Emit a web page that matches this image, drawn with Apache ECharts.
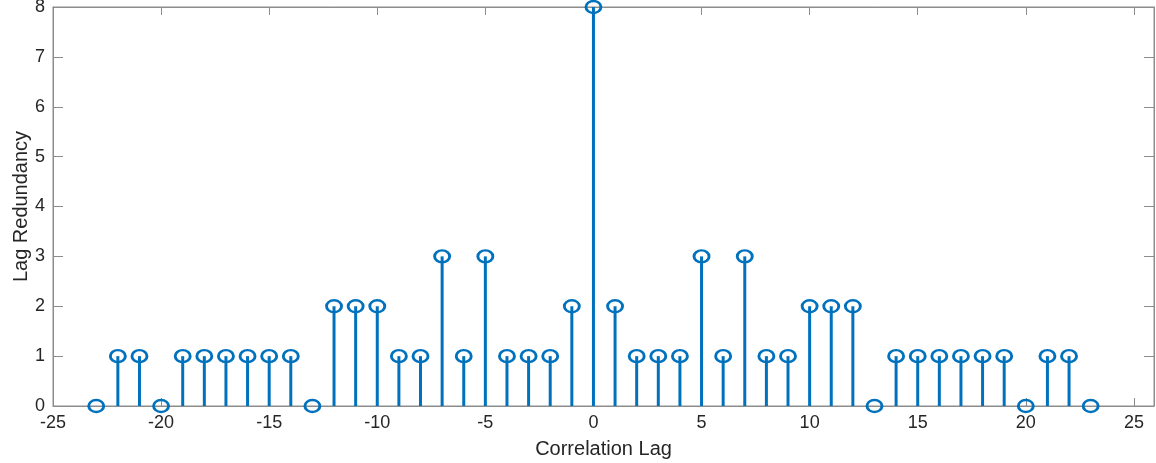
<!DOCTYPE html>
<html>
<head>
<meta charset="utf-8">
<script src="https://cdn.jsdelivr.net/npm/echarts@6/dist/echarts.min.js"></script>
<style>html,body{margin:0;padding:0;background:#fff;}#c{width:1156px;height:463px;}</style>
</head>
<body>
<div id="c"></div>
<script>
const lags = [-23,-22,-21,-20,-19,-18,-17,-16,-15,-14,-13,-12,-11,-10,-9,-8,-7,-6,-5,-4,-3,-2,-1,0,1,2,3,4,5,6,7,8,9,10,11,12,13,14,15,16,17,18,19,20,21,22,23];
const redundancy = [0,1,1,0,1,1,1,1,1,1,0,2,2,2,1,1,3,1,3,1,1,1,2,8,2,1,1,1,3,1,3,1,1,2,2,2,0,1,1,1,1,1,1,0,1,1,0];
const xTicks = [-25,-20,-15,-10,-5,0,5,10,15,20,25];
const yTicks = [0,1,2,3,4,5,6,7,8];

const pts = lags.map((x, i) => [x, redundancy[i]]);
const blue = '#0072BD';
const axisCol = '#8c8c8c';
const txt = '#262626';
const font = 'Liberation Sans, Arial, sans-serif';

const chart = echarts.init(document.getElementById('c'));
const xCommon = {type: 'value', min: -25, max: 25.93, interval: 5, splitLine: {show: false}};
const yCommon = {type: 'value', min: 0, max: 8, interval: 1, splitLine: {show: false}};
chart.setOption({
  animation: false,
  grid: {left: 53, right: 2, top: 7, bottom: 57, containLabel: false, outerBoundsMode: 'none',
    show: true, borderColor: axisCol, borderWidth: 1},
  xAxis: [
    Object.assign({}, xCommon, {
      position: 'bottom',
      name: 'Correlation Lag', nameLocation: 'middle', nameGap: 33, nameMoveOverlap: false,
      nameTextStyle: {fontFamily: font, fontSize: 20, color: txt},
      axisLine: {show: true, onZero: false, lineStyle: {color: axisCol}},
      axisTick: {show: true, inside: true, length: 8, lineStyle: {color: axisCol}},
      axisLabel: {show: true, fontFamily: font, fontSize: 18, color: txt, margin: 8,
        formatter: v => xTicks.includes(v) ? String(v) : '', showMaxLabel: false}
    }),
    Object.assign({}, xCommon, {
      position: 'top',
      axisLine: {show: true, onZero: false, lineStyle: {color: axisCol}},
      axisTick: {show: true, inside: true, length: 8, lineStyle: {color: axisCol}},
      axisLabel: {show: false}
    })
  ],
  yAxis: [
    Object.assign({}, yCommon, {
      position: 'left',
      name: 'Lag Redundancy', nameLocation: 'middle', nameGap: 22, nameMoveOverlap: false,
      nameTextStyle: {fontFamily: font, fontSize: 20, color: txt},
      axisLine: {show: true, onZero: false, lineStyle: {color: axisCol}},
      axisTick: {show: true, inside: true, length: 10, lineStyle: {color: axisCol}},
      axisLabel: {show: true, fontFamily: font, fontSize: 18, color: txt, margin: 8,
        formatter: v => yTicks.includes(v) ? String(v) : ''}
    }),
    Object.assign({}, yCommon, {
      position: 'right',
      axisLine: {show: true, onZero: false, lineStyle: {color: axisCol}},
      axisTick: {show: true, inside: true, length: 10, lineStyle: {color: axisCol}},
      axisLabel: {show: false}
    })
  ],
  series: [
    {
      type: 'custom',
      data: pts,
      clip: false,
      renderItem: function (params, api) {
        const top = api.coord([api.value(0), api.value(1)]);
        const base = api.coord([api.value(0), 0]);
        return {
          type: 'line',
          shape: {x1: base[0], y1: base[1], x2: top[0], y2: top[1]},
          style: {stroke: blue, lineWidth: 3}
        };
      }
    },
    {
      type: 'scatter',
      data: pts,
      clip: false,
      symbol: 'circle',
      symbolSize: [15, 12],
      itemStyle: {color: 'rgba(255,255,255,0)', borderColor: blue, borderWidth: 2.6, opacity: 1},
      z: 5
    }
  ]
});
</script>
</body>
</html>
